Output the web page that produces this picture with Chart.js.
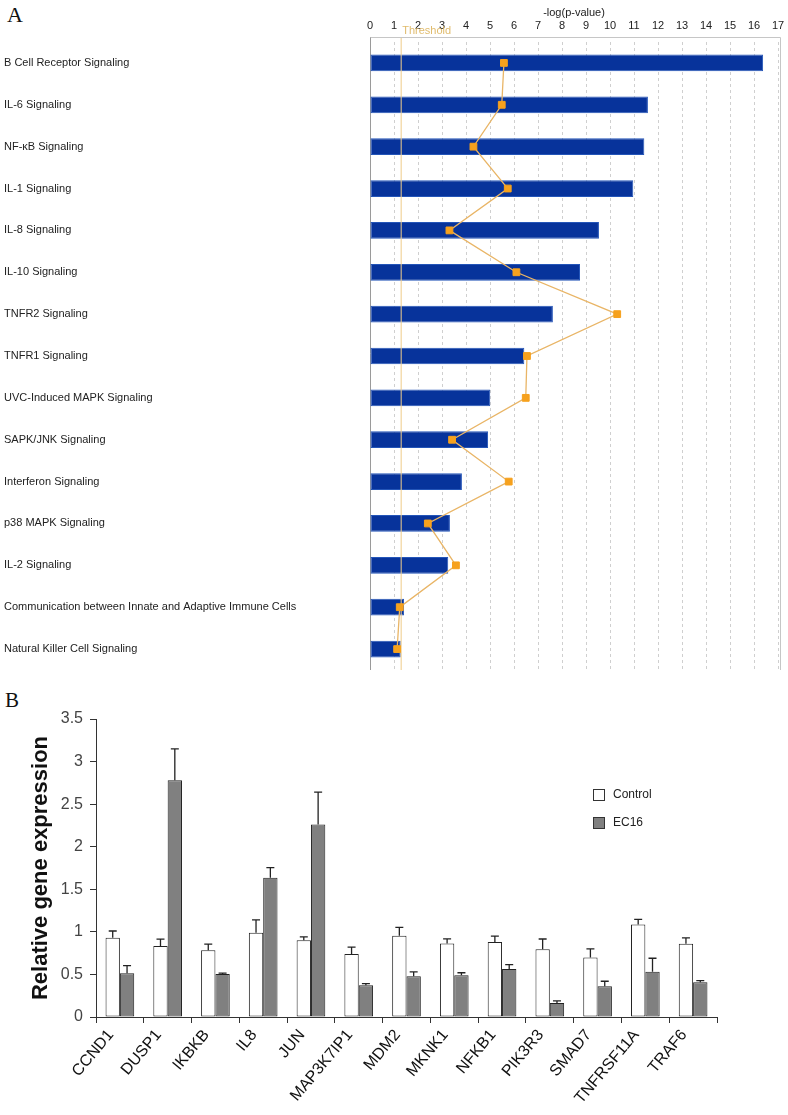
<!DOCTYPE html>
<html>
<head>
<meta charset="utf-8">
<script src="https://cdn.jsdelivr.net/npm/chart.js@4.4.1/dist/chart.umd.min.js"></script>
<style>
    body { margin: 0; background: #fff; }
    .panel-letter { position: absolute; font-family: "Liberation Serif", "DejaVu Serif", serif; color: #111; }
    #wrapA { position: absolute; left: 0; top: 0; width: 788px; height: 680px; }
    #wrapB { position: absolute; left: 0; top: 680px; width: 788px; height: 435px; }
    .legend { position: absolute; left: 593px; font: 12px "Liberation Sans", Arial, sans-serif; color: #222; }
    .legend span { display: inline-block; width: 10px; height: 10px; border: 1px solid #333; vertical-align: middle; margin-right: 8px; }
</style>
</head>
<body>
<div class="panel-letter" style="left:7px; top:2px; font-size:22px;">A</div>
<div id="wrapA"><canvas id="chartA"></canvas></div>
<div class="panel-letter" style="left:5px; top:688px; font-size:21px;">B</div>
<div id="wrapB"><canvas id="chartB"></canvas></div>
<div class="legend" style="top:787px;"><span style="background:#fff"></span>Control</div>
<div class="legend" style="top:815px;"><span style="background:#808080"></span>EC16</div>

<script>
// panel A: pathways
const pathways = [
    "B Cell Receptor Signaling",
    "IL-6 Signaling",
    "NF-κB Signaling",
    "IL-1 Signaling",
    "IL-8 Signaling",
    "IL-10 Signaling",
    "TNFR2 Signaling",
    "TNFR1 Signaling",
    "UVC-Induced MAPK Signaling",
    "SAPK/JNK Signaling",
    "Interferon Signaling",
    "p38 MAPK Signaling",
    "IL-2 Signaling",
    "Communication between Innate and Adaptive Immune Cells",
    "Natural Killer Cell Signaling"
];
const logP = [16.38, 11.58, 11.43, 10.97, 9.54, 8.75, 7.62, 6.43, 5.01, 4.92, 3.83, 3.33, 3.26, 1.42, 1.28];
const ratioLine = [5.58, 5.49, 4.31, 5.74, 3.31, 6.10, 10.30, 6.54, 6.49, 3.42, 5.78, 2.41, 3.58, 1.24, 1.13];
const threshold = 1.3;
const logTicks = [0, 17];

// panel B: qPCR
const genes = ["CCND1", "DUSP1", "IKBKB", "IL8", "JUN", "MAP3K7IP1", "MDM2", "MKNK1", "NFKB1", "PIK3R3", "SMAD7", "TNFRSF11A", "TRAF6"];
const control = [0.93, 0.835, 0.785, 0.99, 0.90, 0.74, 0.953, 0.863, 0.88, 0.796, 0.70, 1.087, 0.86];
const controlErr = [0.08, 0.08, 0.07, 0.15, 0.04, 0.08, 0.10, 0.055, 0.07, 0.12, 0.10, 0.06, 0.07];
const ec16 = [0.514, 2.78, 0.506, 1.635, 2.26, 0.373, 0.479, 0.49, 0.565, 0.165, 0.36, 0.53, 0.408];
const ec16Err = [0.09, 0.37, 0.01, 0.12, 0.38, 0.02, 0.05, 0.03, 0.05, 0.025, 0.06, 0.16, 0.02];
const exprTicks = [0, 3.5, 0.5];

Chart.defaults.font.family = '"Liberation Sans", Arial, sans-serif';
Chart.defaults.animation = false;
Chart.defaults.plugins.legend.display = false;
Chart.defaults.plugins.tooltip.enabled = false;

// frame round the plot + the threshold line, IPA style
const ipaFrame = {
    id: "ipaFrame",
    beforeDatasetsDraw(chart) {
        const { ctx, chartArea: a } = chart;
        ctx.save();
        ctx.lineWidth = 1;
        ctx.strokeStyle = "#c6c6c6";
        ctx.beginPath();
        ctx.moveTo(a.left, a.top - 4.5);
        ctx.lineTo(a.right + 2.5, a.top - 4.5);
        ctx.lineTo(a.right + 2.5, a.bottom);
        ctx.stroke();
        ctx.strokeStyle = "#9a9a9a";
        ctx.beginPath();
        ctx.moveTo(a.left + 0.5, a.top - 4.5);
        ctx.lineTo(a.left + 0.5, a.bottom);
        ctx.stroke();
        ctx.restore();
    },
    afterDatasetDraw(chart, args) {
        if (args.index !== 0) return;
        const { ctx, chartArea: a, scales: { x } } = chart;
        const tx = x.getPixelForValue(threshold);
        ctx.save();
        ctx.strokeStyle = "rgba(238, 205, 140, 0.85)";
        ctx.lineWidth = 1.2;
        ctx.beginPath();
        ctx.moveTo(tx, a.top - 4);
        ctx.lineTo(tx, a.bottom);
        ctx.stroke();
        ctx.fillStyle = "#e0bb6c";
        ctx.font = '11px "Liberation Sans", Arial, sans-serif';
        ctx.textBaseline = "middle";
        ctx.fillText("Threshold", tx + 1, 31);
        ctx.restore();
    }
};

new Chart(document.getElementById("chartA"), {
    type: "bar",
    data: {
        labels: pathways,
        datasets: [{
            data: logP,
            backgroundColor: "#07339b",
            borderColor: "#2455b8",
            borderWidth: 1,
            borderSkipped: false,
            barPercentage: 0.4,
            categoryPercentage: 1,
            order: 1
        }, {
            type: "line",
            data: ratioLine,
            borderColor: "#e9b566",
            borderWidth: 1.3,
            pointStyle: "rect",
            pointRadius: 4.8,
            pointBackgroundColor: "#f6a11d",
            pointBorderColor: "#f6a11d",
            pointBorderWidth: 1,
            order: 0
        }]
    },
    options: {
        indexAxis: "y",
        responsive: true,
        maintainAspectRatio: false,
        layout: { padding: { left: 4, right: 10, top: 0, bottom: 10 } },
        scales: {
            x: {
                position: "top",
                min: logTicks[0],
                max: logTicks[1],
                ticks: { stepSize: 1, color: "#222", font: { size: 11 }, padding: 9 },
                grid: { color: "#cfcfcf", drawTicks: false },
                border: { display: false, dash: [3, 3] },
                title: { display: true, text: "-log(p-value)", color: "#222", font: { size: 11 }, padding: { top: 6, bottom: 0 } },
                afterFit(scale) {
                    scale.height = 42;
                    scale.paddingRight = 0;
                    scale.paddingLeft = 0;
                }
            },
            y: {
                ticks: { color: "#222", font: { size: 11 }, crossAlign: "far" },
                grid: { display: false },
                border: { display: false },
                afterFit(scale) { scale.width = 366; }
            }
        }
    },
    plugins: [ipaFrame]
});

// upward error bars on each bar
const errorBars = {
    id: "errorBars",
    afterDatasetsDraw(chart) {
        const { ctx, scales: { y } } = chart;
        ctx.save();
        ctx.strokeStyle = "#222";
        ctx.lineWidth = 1.3;
        chart.data.datasets.forEach((ds, i) => {
            chart.getDatasetMeta(i).data.forEach((bar, j) => {
                const top = y.getPixelForValue(ds.data[j] + ds.errors[j]);
                ctx.beginPath();
                ctx.moveTo(bar.x, bar.y);
                ctx.lineTo(bar.x, top);
                ctx.moveTo(bar.x - 4, top);
                ctx.lineTo(bar.x + 4, top);
                ctx.stroke();
            });
        });
        ctx.restore();
    }
};

new Chart(document.getElementById("chartB"), {
    type: "bar",
    data: {
        labels: genes,
        datasets: [{
            label: "Control",
            data: control,
            errors: controlErr,
            backgroundColor: "#ffffff",
            borderColor: "#222",
            borderWidth: 1,
            borderSkipped: false
        }, {
            label: "EC16",
            data: ec16,
            errors: ec16Err,
            backgroundColor: "#808080",
            borderColor: "#222",
            borderWidth: 1,
            borderSkipped: false
        }]
    },
    options: {
        responsive: true,
        maintainAspectRatio: false,
        categoryPercentage: 0.6,
        barPercentage: 1,
        layout: { padding: { left: 0, right: 71, top: 39, bottom: 0 } },
        scales: {
            x: {
                ticks: { color: "#111", font: { size: 16 }, minRotation: 50, maxRotation: 50, autoSkip: false, labelOffset: -9, padding: 3 },
                grid: { offset: true, drawOnChartArea: false, tickLength: 6, color: "#333" },
                border: { color: "#333" },
                afterFit(scale) { scale.height = 98; }
            },
            y: {
                min: exprTicks[0],
                max: exprTicks[1],
                ticks: {
                    stepSize: exprTicks[2], color: "#444", font: { size: 16 }, padding: 7,
                    callback: v => String(Number(v.toFixed(1)))
                },
                grid: { drawOnChartArea: false, tickLength: 6, color: "#333" },
                border: { color: "#333" },
                title: { display: true, text: "Relative gene expression", color: "#111", font: { size: 22, weight: "bold" }, padding: { top: 28, bottom: 0 } },
                afterFit(scale) { scale.width = 96; }
            }
        }
    },
    plugins: [errorBars]
});
</script>
</body>
</html>
